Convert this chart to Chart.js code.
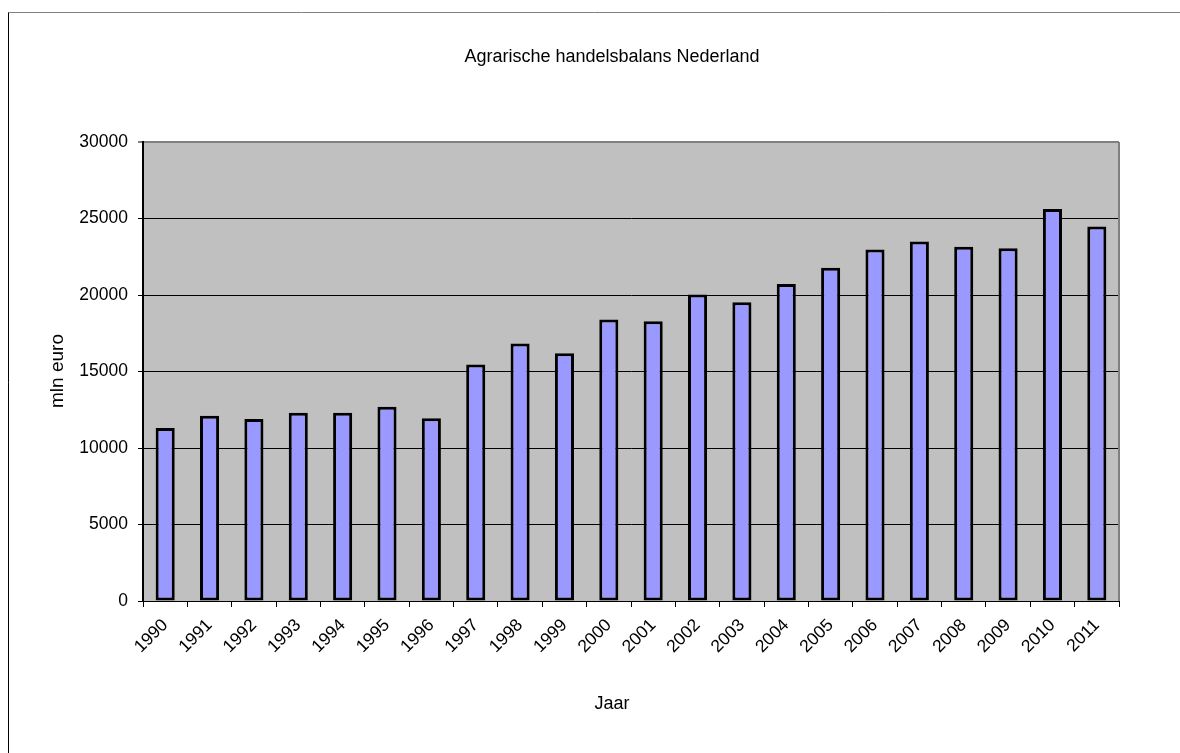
<!DOCTYPE html>
<html>
<head>
<meta charset="utf-8">
<script src="https://cdn.jsdelivr.net/npm/chart.js@4.4.1/dist/chart.umd.min.js"></script>
<style>
  body { margin: 0; background: #fff; }
</style>
</head>
<body>
<canvas id="chart" width="1180" height="753"></canvas>
<script>
// data
const jaren = ['1990', '1991', '1992', '1993', '1994', '1995', '1996', '1997', '1998', '1999', '2000',
               '2001', '2002', '2003', '2004', '2005', '2006', '2007', '2008', '2009', '2010', '2011'];
const saldo = [11300, 12100, 11900, 12300, 12300, 12700, 11950, 15450, 16830, 16190, 18400,
               18280, 20030, 19520, 20720, 21780, 22980, 23500, 23150, 23050, 25620, 24480];
const yTicks = [0, 5000, 10000, 15000, 20000, 25000, 30000];

const titel = 'Agrarische handelsbalans Nederland';
const yTitel = 'mln euro';
const xTitel = 'Jaar';

const fontFam = '"Liberation Sans", Arial, sans-serif';

// frame, plot background and texts
const decor = {
    id: 'decor',
    beforeDraw(chart) {
        const ctx = chart.ctx;
        const a = chart.chartArea;
        ctx.save();
        ctx.fillStyle = '#c0c0c0';
        ctx.fillRect(a.left, a.top, a.right - a.left, a.bottom - a.top);
        ctx.restore();
    },
    afterDraw(chart) {
        const ctx = chart.ctx;
        const a = chart.chartArea;
        ctx.save();
        // outer frame
        ctx.lineWidth = 1;
        ctx.strokeStyle = '#808080';
        ctx.beginPath();
        ctx.moveTo(8.5, 12.5);
        ctx.lineTo(1180, 12.5);
        ctx.stroke();
        ctx.strokeStyle = '#000';
        ctx.beginPath();
        ctx.moveTo(8.5, 12.5);
        ctx.lineTo(8.5, 753);
        ctx.stroke();
        // plot border right
        ctx.strokeStyle = '#808080';
        ctx.lineWidth = 2;
        ctx.beginPath();
        ctx.moveTo(a.right, a.top);
        ctx.lineTo(a.right, a.bottom);
        ctx.stroke();
        // texts
        ctx.fillStyle = '#000';
        ctx.textAlign = 'center';
        ctx.textBaseline = 'middle';
        ctx.font = '18px ' + fontFam;
        ctx.fillText(titel, 612, 57);
        ctx.fillText(xTitel, 612, 704);
        ctx.font = '19px ' + fontFam;
        ctx.translate(58, 371);
        ctx.rotate(-Math.PI / 2);
        ctx.fillText(yTitel, 0, 0);
        ctx.restore();
    }
};

const ctx = document.getElementById('chart').getContext('2d');
new Chart(ctx, {
    type: 'bar',
    data: {
        labels: jaren,
        datasets: [{
            label: titel,
            data: saldo,
            backgroundColor: '#9999ff',
            borderColor: '#000',
            borderWidth: 3,
            borderSkipped: false,
            barPercentage: 0.43,
            categoryPercentage: 1
        }]
    },
    options: {
        responsive: false,
        animation: false,
        layout: { padding: { left: 0, right: 61, top: 142, bottom: 0 } },
        plugins: {
            legend: { display: false },
            title: { display: false },
            tooltip: { enabled: false }
        },
        scales: {
            x: {
                grid: {
                    offset: true,
                    drawOnChartArea: false,
                    drawTicks: true,
                    tickLength: 6,
                    color: '#000'
                },
                border: { color: '#000', width: 1 },
                ticks: {
                    color: '#000',
                    font: { family: fontFam, size: 17.5 },
                    minRotation: 45,
                    maxRotation: 45,
                    padding: 8
                },
                afterFit(scale) { scale.height = 152; }
            },
            y: {
                min: 0,
                max: 30000,
                afterBuildTicks(scale) { scale.ticks = yTicks.map(v => ({ value: v })); },
                grid: {
                    color: c => (c.tick && c.tick.value === 30000) ? '#808080' : '#000',
                    lineWidth: c => (c.tick && c.tick.value === 30000) ? 2 : 1,
                    tickLength: 5
                },
                border: { color: '#000', width: 2 },
                ticks: {
                    color: '#000',
                    font: { family: fontFam, size: 17.5 },
                    padding: 10,
                    callback: v => String(v)
                },
                afterFit(scale) { scale.width = 143; }
            }
        }
    },
    plugins: [decor]
});
</script>
</body>
</html>
